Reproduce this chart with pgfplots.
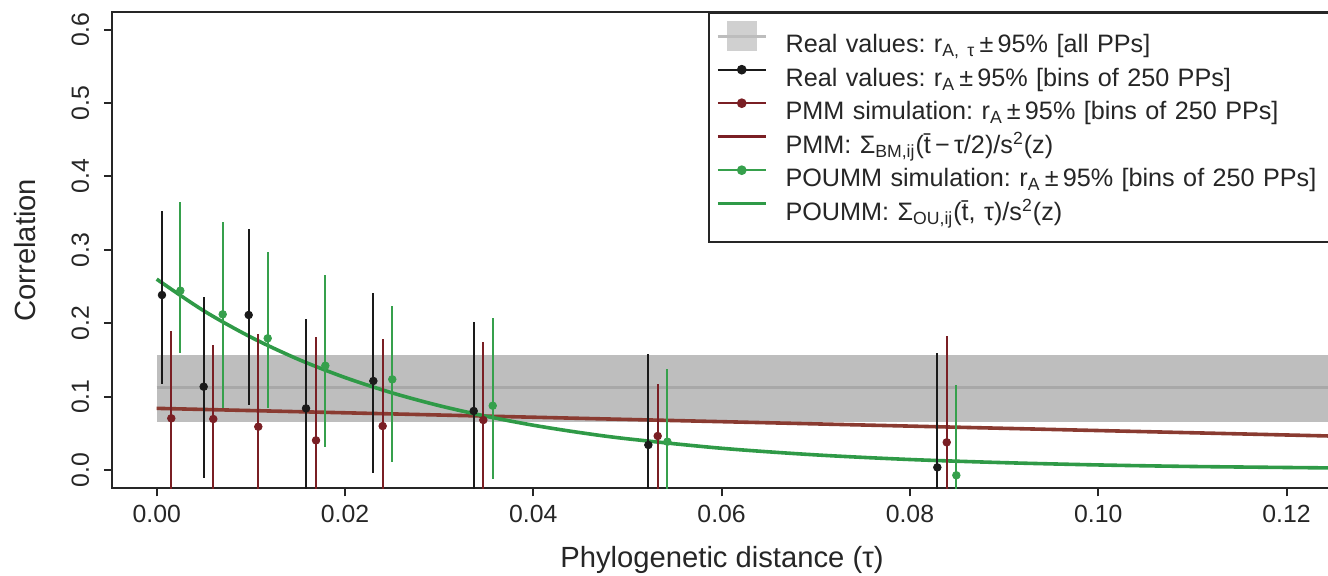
\documentclass[border=0pt]{standalone}
\usepackage{fontspec}
\setmainfont{Liberation Sans}
\usepackage{pgfplots}
\pgfplotsset{compat=1.18}
\frenchspacing
\definecolor{cBlack}{HTML}{1A1A1A}
\definecolor{cRed}{HTML}{7A1F24}
\definecolor{cRedLine}{HTML}{8A3B31}
\definecolor{cGreen}{HTML}{36A04C}
\definecolor{cGreenLine}{HTML}{2F9A47}
\definecolor{cBand}{HTML}{BEBEBE}
\definecolor{cBandLine}{HTML}{A8A8A8}
\definecolor{cBandLeg}{HTML}{D0D0D0}
\definecolor{cBandLegLine}{HTML}{BDBDBD}

% real values, bins of 250 PPs: x y plus minus
\pgfplotstableread{
x        y       ep      em
0.00056  0.2384  0.1145  0.1212
0.00499  0.1135  0.1218  0.1248
0.00977  0.2112  0.1167  0.1226
0.01586  0.0840  0.1217  0.1217
0.02301  0.1213  0.1203  0.1249
0.03367  0.0804  0.1217  0.1217
0.05222  0.0341  0.1239  0.1239
0.08291  0.0036  0.1554  0.1554
}\realbins
\pgfplotstableread{
x        y       ep      em
0.00155  0.0704  0.1190  0.1190
0.00601  0.0695  0.1008  0.1008
0.01079  0.0590  0.1258  0.1258
0.01692  0.0404  0.1404  0.1404
0.02400  0.0599  0.1182  0.1182
0.03469  0.0681  0.1067  0.1067
0.05321  0.0463  0.0709  0.0760
0.08391  0.0377  0.1449  0.1449
}\pmmbins
\pgfplotstableread{
x        y       ep      em
0.00251  0.2443  0.1204  0.0853
0.00701  0.2121  0.1253  0.1272
0.01179  0.1794  0.1172  0.0954
0.01791  0.1421  0.1236  0.1103
0.02502  0.1235  0.0999  0.1122
0.03569  0.0876  0.1191  0.0999
0.05424  0.0386  0.0986  0.0986
0.08493  -0.0072 0.1226  0.1226
}\poummbins

\pgfplotsset{
  bins/.style={only marks, mark=*, mark size=1.9pt, color=#1, forget plot,
    error bars/.cd, y dir=both, y explicit, error mark=none,
    error bar style={line width=1pt, color=#1}},
}

\begin{document}
\begin{tikzpicture}
\useasboundingbox (0,0) rectangle (664pt,287.5pt);
\clip (0,0) rectangle (664pt,287.5pt);
\begin{axis}[
    at={(56pt,43.35pt)}, anchor=south west,
    scale only axis, width=610pt, height=238.15pt,
    xmin=-0.004748, xmax=0.12483, ymin=-0.02493, ymax=0.62398,
    xtick={0,0.02,0.04,0.06,0.08,0.10,0.12},
    ytick={0,0.1,0.2,0.3,0.4,0.5,0.6},
    scaled ticks=false,
    tick pos=left, tick align=outside, major tick length=4pt,
    tick style={line width=1pt, black!85},
    axis line style={line width=1pt, black!85},
    /pgf/number format/assume math mode=true,
    tick label style={font=\fontsize{12.4}{14}\selectfont, text=black!85},
    xticklabel style={/pgf/number format/fixed, /pgf/number format/fixed zerofill,
      /pgf/number format/precision=2, anchor=base, inner sep=0pt, yshift=-13.2pt},
    yticklabel style={/pgf/number format/fixed, /pgf/number format/fixed zerofill,
      /pgf/number format/precision=1, xshift=-7.5pt, rotate=90, anchor=base, inner sep=0pt},
    xlabel={Phylogenetic distance (τ)},
    ylabel={Correlation},
    label style={font=\fontsize{14.6}{16}\selectfont, text=black!85},
    xlabel style={at={(axis description cs:0.5,-0.1673)}, anchor=base, inner sep=0pt},
    ylabel style={at={(axis description cs:-0.0631,0.5)}, anchor=base, inner sep=0pt},
    legend style={
      at={(rel axis cs:0.4885,1)}, anchor=north west,
      draw=black!85, line width=1pt, fill=white,
      inner xsep=3.5pt, inner ysep=6.925pt, row sep=0pt,
      font=\fontsize{12.6}{15}\selectfont,
      nodes={inner sep=0pt, text height=12.925pt, text depth=3.825pt,
             text width=290pt, align=left, text=black!85},
      /tikz/every odd column/.append style={column sep=9pt},
    },
    legend cell align=left,
]
% grey band: real values, all PPs
\addplot[fill=cBand, draw=none, forget plot] coordinates
  {(0,0.0658) (0.13,0.0658) (0.13,0.1567) (0,0.1567)} -- cycle;
\addplot[cBandLine, line width=1.6pt, forget plot] coordinates {(0,0.1121) (0.13,0.1121)};

% model curves
\addplot[cRedLine, line width=1.8pt, forget plot] coordinates {(0,0.0840) (0.125,0.0462)};
\addplot[cGreenLine, line width=1.8pt, smooth, forget plot] coordinates {
  (0,0.2600) (0.005,0.2169) (0.01,0.1810) (0.015,0.1510) (0.02,0.1260)
  (0.025,0.1051) (0.03,0.0877) (0.035,0.0732) (0.04,0.0610) (0.045,0.0509)
  (0.05,0.0425) (0.06,0.0296) (0.07,0.0206) (0.08,0.0143) (0.09,0.0100)
  (0.10,0.0069) (0.11,0.0048) (0.125,0.0028)};

% binned estimates
\addplot[bins=cBlack] table[x=x, y=y, y error plus=ep, y error minus=em] {\realbins};
\addplot[bins=cRed] table[x=x, y=y, y error plus=ep, y error minus=em] {\pmmbins};
\addplot[bins=cGreen] table[x=x, y=y, y error plus=ep, y error minus=em] {\poummbins};

% legend
\addlegendimage{legend image code/.code={
  \fill[cBandLeg, overlay] (5pt,-3.45pt) rectangle (19pt,10.85pt);
  \draw[cBandLegLine, line width=1.5pt] (0pt,3.7pt) -- (24pt,3.7pt);}}
\addlegendentry{Real values: r\textsubscript{A, τ}\,±\,95\% [all PPs]}
\addlegendimage{legend image code/.code={
  \draw[cBlack, line width=1pt] (0pt,3.7pt) -- (24pt,3.7pt);
  \fill[cBlack] (12pt,3.7pt) circle (1.9pt);}}
\addlegendentry{Real values: r\textsubscript{A}\,±\,95\% [bins of 250 PPs]}
\addlegendimage{legend image code/.code={
  \draw[cRed, line width=1pt] (0pt,3.7pt) -- (24pt,3.7pt);
  \fill[cRed] (12pt,3.7pt) circle (1.9pt);}}
\addlegendentry{PMM simulation: r\textsubscript{A}\,±\,95\% [bins of 250 PPs]}
\addlegendimage{legend image code/.code={
  \draw[cRed, line width=1.8pt] (0pt,3.7pt) -- (24pt,3.7pt);}}
\addlegendentry{PMM: Σ\textsubscript{BM,ij}(\=t\,−\,τ/2)/s\textsuperscript{2}(z)}
\addlegendimage{legend image code/.code={
  \draw[cGreen, line width=1pt] (0pt,3.7pt) -- (24pt,3.7pt);
  \fill[cGreen] (12pt,3.7pt) circle (1.9pt);}}
\addlegendentry{POUMM simulation: r\textsubscript{A}\,±\,95\% [bins of 250 PPs]}
\addlegendimage{legend image code/.code={
  \draw[cGreenLine, line width=1.8pt] (0pt,3.7pt) -- (24pt,3.7pt);}}
\addlegendentry{POUMM: Σ\textsubscript{OU,ij}(\=t, τ)/s\textsuperscript{2}(z)}
\end{axis}
\end{tikzpicture}
\end{document}
